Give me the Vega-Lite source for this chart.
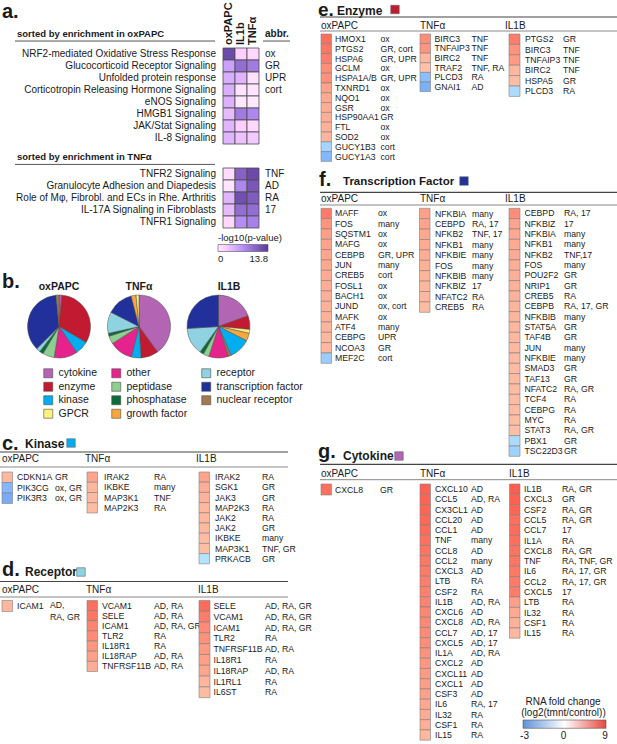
{
"$schema": "https://vega.github.io/schema/vega-lite/v6.json",
"padding": 0,
"background": "white",
"autosize": {"type": "none"},
"width": 617,
"height": 744,
"config": {
  "view": {"stroke": null},
  "axis": {"disable": true},
  "font": "Liberation Sans",
  "text": {"font": "Liberation Sans", "fontSize": 10, "color": "#1a1a1a"},
  "legend": {"labelFont": "Liberation Sans", "titleFont": "Liberation Sans", "labelColor": "#1a1a1a", "titleColor": "#1a1a1a"}
},
"datasets": {
  "hm": [
    {"pathway": "NRF2-mediated Oxidative Stress Response", "cond": "oxPAPC", "p": 12.5},
    {"pathway": "NRF2-mediated Oxidative Stress Response", "cond": "IL1b", "p": 2.0},
    {"pathway": "NRF2-mediated Oxidative Stress Response", "cond": "TNFα", "p": 1.5},
    {"pathway": "Glucocorticoid Receptor Signaling", "cond": "oxPAPC", "p": 5.5},
    {"pathway": "Glucocorticoid Receptor Signaling", "cond": "IL1b", "p": 9.5},
    {"pathway": "Glucocorticoid Receptor Signaling", "cond": "TNFα", "p": 8.5},
    {"pathway": "Unfolded protein response", "cond": "oxPAPC", "p": 4.5},
    {"pathway": "Unfolded protein response", "cond": "IL1b", "p": 4.0},
    {"pathway": "Unfolded protein response", "cond": "TNFα", "p": 0.8},
    {"pathway": "Corticotropin Releasing Hormone Signaling", "cond": "oxPAPC", "p": 4.5},
    {"pathway": "Corticotropin Releasing Hormone Signaling", "cond": "IL1b", "p": 0.6},
    {"pathway": "Corticotropin Releasing Hormone Signaling", "cond": "TNFα", "p": 0.5},
    {"pathway": "eNOS Signaling", "cond": "oxPAPC", "p": 4.2},
    {"pathway": "eNOS Signaling", "cond": "IL1b", "p": 0.3},
    {"pathway": "eNOS Signaling", "cond": "TNFα", "p": 0.2},
    {"pathway": "HMGB1 Signaling", "cond": "oxPAPC", "p": 3.5},
    {"pathway": "HMGB1 Signaling", "cond": "IL1b", "p": 8.5},
    {"pathway": "HMGB1 Signaling", "cond": "TNFα", "p": 7.5},
    {"pathway": "JAK/Stat Signaling", "cond": "oxPAPC", "p": 4.0},
    {"pathway": "JAK/Stat Signaling", "cond": "IL1b", "p": 2.0},
    {"pathway": "JAK/Stat Signaling", "cond": "TNFα", "p": 1.5},
    {"pathway": "IL-8 Signaling", "cond": "oxPAPC", "p": 4.0},
    {"pathway": "IL-8 Signaling", "cond": "IL1b", "p": 3.0},
    {"pathway": "IL-8 Signaling", "cond": "TNFα", "p": 2.5},
    {"pathway": "TNFR2 Signaling", "cond": "oxPAPC", "p": 1.2},
    {"pathway": "TNFR2 Signaling", "cond": "IL1b", "p": 10.5},
    {"pathway": "TNFR2 Signaling", "cond": "TNFα", "p": 12.5},
    {"pathway": "Granulocyte Adhesion and Diapedesis", "cond": "oxPAPC", "p": 0.5},
    {"pathway": "Granulocyte Adhesion and Diapedesis", "cond": "IL1b", "p": 7.5},
    {"pathway": "Granulocyte Adhesion and Diapedesis", "cond": "TNFα", "p": 11.5},
    {"pathway": "Role of Mφ, Fibrobl. and ECs in Rhe. Arthritis", "cond": "oxPAPC", "p": 4.0},
    {"pathway": "Role of Mφ, Fibrobl. and ECs in Rhe. Arthritis", "cond": "IL1b", "p": 12.0},
    {"pathway": "Role of Mφ, Fibrobl. and ECs in Rhe. Arthritis", "cond": "TNFα", "p": 11.0},
    {"pathway": "IL-17A Signaling in Fibroblasts", "cond": "oxPAPC", "p": 3.5},
    {"pathway": "IL-17A Signaling in Fibroblasts", "cond": "IL1b", "p": 9.5},
    {"pathway": "IL-17A Signaling in Fibroblasts", "cond": "TNFα", "p": 9.5},
    {"pathway": "TNFR1 Signaling", "cond": "oxPAPC", "p": 1.5},
    {"pathway": "TNFR1 Signaling", "cond": "IL1b", "p": 7.0},
    {"pathway": "TNFR1 Signaling", "cond": "TNFα", "p": 8.0}
  ],
  "pw": [
    {"pathway": "NRF2-mediated Oxidative Stress Response", "abbr": "ox"},
    {"pathway": "Glucocorticoid Receptor Signaling", "abbr": "GR"},
    {"pathway": "Unfolded protein response", "abbr": "UPR"},
    {"pathway": "Corticotropin Releasing Hormone Signaling", "abbr": "cort"},
    {"pathway": "eNOS Signaling", "abbr": ""},
    {"pathway": "HMGB1 Signaling", "abbr": ""},
    {"pathway": "JAK/Stat Signaling", "abbr": ""},
    {"pathway": "IL-8 Signaling", "abbr": ""},
    {"pathway": "TNFR2 Signaling", "abbr": "TNF"},
    {"pathway": "Granulocyte Adhesion and Diapedesis", "abbr": "AD"},
    {"pathway": "Role of Mφ, Fibrobl. and ECs in Rhe. Arthritis", "abbr": "RA"},
    {"pathway": "IL-17A Signaling in Fibroblasts", "abbr": "17"},
    {"pathway": "TNFR1 Signaling", "abbr": ""}
  ],
  "pie": [
    {"cond": "oxPAPC", "cat": "cytokine", "pct": 1.5, "ord": 1},
    {"cond": "oxPAPC", "cat": "enzyme", "pct": 32, "ord": 2},
    {"cond": "oxPAPC", "cat": "kinase", "pct": 7, "ord": 3},
    {"cond": "oxPAPC", "cat": "other", "pct": 12, "ord": 4},
    {"cond": "oxPAPC", "cat": "peptidase", "pct": 6, "ord": 5},
    {"cond": "oxPAPC", "cat": "phosphatase", "pct": 2, "ord": 6},
    {"cond": "oxPAPC", "cat": "receptor", "pct": 2, "ord": 7},
    {"cond": "oxPAPC", "cat": "transcription factor", "pct": 36, "ord": 8},
    {"cond": "oxPAPC", "cat": "nuclear receptor", "pct": 1.5, "ord": 9},
    {"cond": "TNFα", "cat": "cytokine", "pct": 40, "ord": 1},
    {"cond": "TNFα", "cat": "enzyme", "pct": 9, "ord": 2},
    {"cond": "TNFα", "cat": "kinase", "pct": 5, "ord": 3},
    {"cond": "TNFα", "cat": "other", "pct": 12, "ord": 4},
    {"cond": "TNFα", "cat": "peptidase", "pct": 4, "ord": 5},
    {"cond": "TNFα", "cat": "phosphatase", "pct": 1.5, "ord": 6},
    {"cond": "TNFα", "cat": "receptor", "pct": 11, "ord": 7},
    {"cond": "TNFα", "cat": "transcription factor", "pct": 13.5, "ord": 8},
    {"cond": "TNFα", "cat": "growth factor", "pct": 2.5, "ord": 9},
    {"cond": "TNFα", "cat": "GPCR", "pct": 1.5, "ord": 10},
    {"cond": "IL1B", "cat": "cytokine", "pct": 19.5, "ord": 1},
    {"cond": "IL1B", "cat": "enzyme", "pct": 7, "ord": 2},
    {"cond": "IL1B", "cat": "GPCR", "pct": 2, "ord": 3},
    {"cond": "IL1B", "cat": "growth factor", "pct": 4, "ord": 4},
    {"cond": "IL1B", "cat": "kinase", "pct": 11, "ord": 5},
    {"cond": "IL1B", "cat": "nuclear receptor", "pct": 1.5, "ord": 6},
    {"cond": "IL1B", "cat": "other", "pct": 10, "ord": 7},
    {"cond": "IL1B", "cat": "peptidase", "pct": 3, "ord": 8},
    {"cond": "IL1B", "cat": "phosphatase", "pct": 2, "ord": 9},
    {"cond": "IL1B", "cat": "receptor", "pct": 14, "ord": 10},
    {"cond": "IL1B", "cat": "transcription factor", "pct": 26, "ord": 11}
  ],
  "kin": [
    {"cond": "oxPAPC", "rank": 1, "gene": "CDKN1A", "abbr": "GR", "fc": 1.2},
    {"cond": "oxPAPC", "rank": 2, "gene": "PIK3CG", "abbr": "ox, GR", "fc": -2.0},
    {"cond": "oxPAPC", "rank": 3, "gene": "PIK3R3", "abbr": "ox, GR", "fc": -2.3},
    {"cond": "TNFα", "rank": 1, "gene": "IRAK2", "abbr": "RA", "fc": 2.6},
    {"cond": "TNFα", "rank": 2, "gene": "IKBKE", "abbr": "many", "fc": 1.3},
    {"cond": "TNFα", "rank": 3, "gene": "MAP3K1", "abbr": "TNF", "fc": 1.1},
    {"cond": "TNFα", "rank": 4, "gene": "MAP2K3", "abbr": "RA", "fc": 0.9},
    {"cond": "IL1B", "rank": 1, "gene": "IRAK2", "abbr": "RA", "fc": 2.6},
    {"cond": "IL1B", "rank": 2, "gene": "SGK1", "abbr": "GR", "fc": 1.9},
    {"cond": "IL1B", "rank": 3, "gene": "JAK3", "abbr": "GR", "fc": 1.6},
    {"cond": "IL1B", "rank": 4, "gene": "MAP2K3", "abbr": "RA", "fc": 1.3},
    {"cond": "IL1B", "rank": 5, "gene": "JAK2", "abbr": "RA", "fc": 1.2},
    {"cond": "IL1B", "rank": 6, "gene": "JAK2", "abbr": "GR", "fc": 1.1},
    {"cond": "IL1B", "rank": 7, "gene": "IKBKE", "abbr": "many", "fc": 0.9},
    {"cond": "IL1B", "rank": 8, "gene": "MAP3K1", "abbr": "TNF, GR", "fc": 0.8},
    {"cond": "IL1B", "rank": 9, "gene": "PRKACB", "abbr": "GR", "fc": -0.8}
  ],
  "rec": [
    {"cond": "oxPAPC", "rank": 1, "gene": "ICAM1", "abbr": "AD,\nRA, GR", "fc": 1.3},
    {"cond": "TNFα", "rank": 1, "gene": "VCAM1", "abbr": "AD, RA", "fc": 6.3},
    {"cond": "TNFα", "rank": 2, "gene": "SELE", "abbr": "AD, RA", "fc": 5.8},
    {"cond": "TNFα", "rank": 3, "gene": "ICAM1", "abbr": "AD, RA, GR", "fc": 4.8},
    {"cond": "TNFα", "rank": 4, "gene": "TLR2", "abbr": "RA", "fc": 4.3},
    {"cond": "TNFα", "rank": 5, "gene": "IL18R1", "abbr": "RA", "fc": 3.5},
    {"cond": "TNFα", "rank": 6, "gene": "IL18RAP", "abbr": "AD, RA", "fc": 2.8},
    {"cond": "TNFα", "rank": 7, "gene": "TNFRSF11B", "abbr": "AD, RA", "fc": 2.0},
    {"cond": "IL1B", "rank": 1, "gene": "SELE", "abbr": "AD, RA, GR", "fc": 6.5},
    {"cond": "IL1B", "rank": 2, "gene": "VCAM1", "abbr": "AD, RA, GR", "fc": 5.3},
    {"cond": "IL1B", "rank": 3, "gene": "ICAM1", "abbr": "AD, RA, GR", "fc": 4.3},
    {"cond": "IL1B", "rank": 4, "gene": "TLR2", "abbr": "RA", "fc": 3.8},
    {"cond": "IL1B", "rank": 5, "gene": "TNFRSF11B", "abbr": "AD, RA", "fc": 3.3},
    {"cond": "IL1B", "rank": 6, "gene": "IL18R1", "abbr": "RA", "fc": 2.9},
    {"cond": "IL1B", "rank": 7, "gene": "IL18RAP", "abbr": "AD, RA", "fc": 2.5},
    {"cond": "IL1B", "rank": 8, "gene": "IL1RL1", "abbr": "RA", "fc": 1.4},
    {"cond": "IL1B", "rank": 9, "gene": "IL6ST", "abbr": "RA", "fc": 1.0}
  ],
  "enz": [
    {"cond": "oxPAPC", "rank": 1, "gene": "HMOX1", "abbr": "ox", "fc": 6.3},
    {"cond": "oxPAPC", "rank": 2, "gene": "PTGS2", "abbr": "GR, cort", "fc": 5.8},
    {"cond": "oxPAPC", "rank": 3, "gene": "HSPA6", "abbr": "GR, UPR", "fc": 5.2},
    {"cond": "oxPAPC", "rank": 4, "gene": "GCLM", "abbr": "ox", "fc": 4.2},
    {"cond": "oxPAPC", "rank": 5, "gene": "HSPA1A/B", "abbr": "GR, UPR", "fc": 4.0},
    {"cond": "oxPAPC", "rank": 6, "gene": "TXNRD1", "abbr": "ox", "fc": 2.7},
    {"cond": "oxPAPC", "rank": 7, "gene": "NQO1", "abbr": "ox", "fc": 2.2},
    {"cond": "oxPAPC", "rank": 8, "gene": "GSR", "abbr": "ox", "fc": 2.0},
    {"cond": "oxPAPC", "rank": 9, "gene": "HSP90AA1", "abbr": "GR", "fc": 1.9},
    {"cond": "oxPAPC", "rank": 10, "gene": "FTL", "abbr": "ox", "fc": 1.6},
    {"cond": "oxPAPC", "rank": 11, "gene": "SOD2", "abbr": "ox", "fc": 1.4},
    {"cond": "oxPAPC", "rank": 12, "gene": "GUCY1B3", "abbr": "cort", "fc": -1.2},
    {"cond": "oxPAPC", "rank": 13, "gene": "GUCY1A3", "abbr": "cort", "fc": -2.0},
    {"cond": "TNFα", "rank": 1, "gene": "BIRC3", "abbr": "TNF", "fc": 4.2},
    {"cond": "TNFα", "rank": 2, "gene": "TNFAIP3", "abbr": "TNF", "fc": 3.6},
    {"cond": "TNFα", "rank": 3, "gene": "BIRC2", "abbr": "TNF", "fc": 1.3},
    {"cond": "TNFα", "rank": 4, "gene": "TRAF2", "abbr": "TNF, RA", "fc": 0.6},
    {"cond": "TNFα", "rank": 5, "gene": "PLCD3", "abbr": "RA", "fc": -1.8},
    {"cond": "TNFα", "rank": 6, "gene": "GNAI1", "abbr": "AD", "fc": -2.2},
    {"cond": "IL1B", "rank": 1, "gene": "PTGS2", "abbr": "GR", "fc": 5.2},
    {"cond": "IL1B", "rank": 2, "gene": "BIRC3", "abbr": "TNF", "fc": 3.8},
    {"cond": "IL1B", "rank": 3, "gene": "TNFAIP3", "abbr": "TNF", "fc": 3.2},
    {"cond": "IL1B", "rank": 4, "gene": "BIRC2", "abbr": "TNF", "fc": 1.3},
    {"cond": "IL1B", "rank": 5, "gene": "HSPA5", "abbr": "GR", "fc": 0.8},
    {"cond": "IL1B", "rank": 6, "gene": "PLCD3", "abbr": "RA", "fc": -1.0}
  ],
  "tf": [
    {"cond": "oxPAPC", "rank": 1, "gene": "MAFF", "abbr": "ox", "fc": 5.5},
    {"cond": "oxPAPC", "rank": 2, "gene": "FOS", "abbr": "many", "fc": 3.6},
    {"cond": "oxPAPC", "rank": 3, "gene": "SQSTM1", "abbr": "ox", "fc": 2.9},
    {"cond": "oxPAPC", "rank": 4, "gene": "MAFG", "abbr": "ox", "fc": 2.6},
    {"cond": "oxPAPC", "rank": 5, "gene": "CEBPB", "abbr": "GR, UPR", "fc": 2.5},
    {"cond": "oxPAPC", "rank": 6, "gene": "JUN", "abbr": "many", "fc": 2.3},
    {"cond": "oxPAPC", "rank": 7, "gene": "CREB5", "abbr": "cort", "fc": 2.1},
    {"cond": "oxPAPC", "rank": 8, "gene": "FOSL1", "abbr": "ox", "fc": 1.9},
    {"cond": "oxPAPC", "rank": 9, "gene": "BACH1", "abbr": "ox", "fc": 1.8},
    {"cond": "oxPAPC", "rank": 10, "gene": "JUND", "abbr": "ox, cort", "fc": 1.7},
    {"cond": "oxPAPC", "rank": 11, "gene": "MAFK", "abbr": "ox", "fc": 1.6},
    {"cond": "oxPAPC", "rank": 12, "gene": "ATF4", "abbr": "many", "fc": 1.5},
    {"cond": "oxPAPC", "rank": 13, "gene": "CEBPG", "abbr": "UPR", "fc": 1.3},
    {"cond": "oxPAPC", "rank": 14, "gene": "NCOA3", "abbr": "GR", "fc": 1.2},
    {"cond": "oxPAPC", "rank": 15, "gene": "MEF2C", "abbr": "cort", "fc": -1.4},
    {"cond": "TNFα", "rank": 1, "gene": "NFKBIA", "abbr": "many", "fc": 2.8},
    {"cond": "TNFα", "rank": 2, "gene": "CEBPD", "abbr": "RA, 17", "fc": 2.6},
    {"cond": "TNFα", "rank": 3, "gene": "NFKB2", "abbr": "TNF, 17", "fc": 2.3},
    {"cond": "TNFα", "rank": 4, "gene": "NFKB1", "abbr": "many", "fc": 2.1},
    {"cond": "TNFα", "rank": 5, "gene": "NFKBIE", "abbr": "many", "fc": 1.9},
    {"cond": "TNFα", "rank": 6, "gene": "FOS", "abbr": "many", "fc": 1.7},
    {"cond": "TNFα", "rank": 7, "gene": "NFKBIB", "abbr": "many", "fc": 1.5},
    {"cond": "TNFα", "rank": 8, "gene": "NFKBIZ", "abbr": "17", "fc": 1.3},
    {"cond": "TNFα", "rank": 9, "gene": "NFATC2", "abbr": "RA", "fc": 1.2},
    {"cond": "TNFα", "rank": 10, "gene": "CREB5", "abbr": "RA", "fc": 1.0},
    {"cond": "IL1B", "rank": 1, "gene": "CEBPD", "abbr": "RA, 17", "fc": 4.2},
    {"cond": "IL1B", "rank": 2, "gene": "NFKBIZ", "abbr": "17", "fc": 2.6},
    {"cond": "IL1B", "rank": 3, "gene": "NFKBIA", "abbr": "many", "fc": 2.4},
    {"cond": "IL1B", "rank": 4, "gene": "NFKB1", "abbr": "many", "fc": 2.2},
    {"cond": "IL1B", "rank": 5, "gene": "NFKB2", "abbr": "TNF,17", "fc": 2.1},
    {"cond": "IL1B", "rank": 6, "gene": "FOS", "abbr": "many", "fc": 1.9},
    {"cond": "IL1B", "rank": 7, "gene": "POU2F2", "abbr": "GR", "fc": 1.8},
    {"cond": "IL1B", "rank": 8, "gene": "NRIP1", "abbr": "GR", "fc": 1.7},
    {"cond": "IL1B", "rank": 9, "gene": "CREB5", "abbr": "RA", "fc": 1.6},
    {"cond": "IL1B", "rank": 10, "gene": "CEBPB", "abbr": "RA, 17, GR", "fc": 1.5},
    {"cond": "IL1B", "rank": 11, "gene": "NFKBIB", "abbr": "many", "fc": 1.4},
    {"cond": "IL1B", "rank": 12, "gene": "STAT5A", "abbr": "GR", "fc": 1.3},
    {"cond": "IL1B", "rank": 13, "gene": "TAF4B", "abbr": "GR", "fc": 1.2},
    {"cond": "IL1B", "rank": 14, "gene": "JUN", "abbr": "many", "fc": 1.1},
    {"cond": "IL1B", "rank": 15, "gene": "NFKBIE", "abbr": "many", "fc": 1.1},
    {"cond": "IL1B", "rank": 16, "gene": "SMAD3", "abbr": "GR", "fc": 1.0},
    {"cond": "IL1B", "rank": 17, "gene": "TAF13", "abbr": "GR", "fc": 1.0},
    {"cond": "IL1B", "rank": 18, "gene": "NFATC2", "abbr": "RA, GR", "fc": 0.9},
    {"cond": "IL1B", "rank": 19, "gene": "TCF4", "abbr": "RA", "fc": 0.9},
    {"cond": "IL1B", "rank": 20, "gene": "CEBPG", "abbr": "RA", "fc": 0.8},
    {"cond": "IL1B", "rank": 21, "gene": "MYC", "abbr": "RA", "fc": 0.8},
    {"cond": "IL1B", "rank": 22, "gene": "STAT3", "abbr": "RA, GR", "fc": 0.7},
    {"cond": "IL1B", "rank": 23, "gene": "PBX1", "abbr": "GR", "fc": -1.0},
    {"cond": "IL1B", "rank": 24, "gene": "TSC22D3", "abbr": "GR", "fc": -1.3}
  ],
  "cyt": [
    {"cond": "oxPAPC", "rank": 1, "gene": "CXCL8", "abbr": "GR", "fc": 6.2},
    {"cond": "TNFα", "rank": 1, "gene": "CXCL10", "abbr": "AD", "fc": 7.2},
    {"cond": "TNFα", "rank": 2, "gene": "CCL5", "abbr": "AD, RA", "fc": 7.1},
    {"cond": "TNFα", "rank": 3, "gene": "CX3CL1", "abbr": "AD", "fc": 7.0},
    {"cond": "TNFα", "rank": 4, "gene": "CCL20", "abbr": "AD", "fc": 6.8},
    {"cond": "TNFα", "rank": 5, "gene": "CCL1", "abbr": "AD", "fc": 6.5},
    {"cond": "TNFα", "rank": 6, "gene": "TNF", "abbr": "many", "fc": 6.3},
    {"cond": "TNFα", "rank": 7, "gene": "CCL8", "abbr": "AD", "fc": 6.0},
    {"cond": "TNFα", "rank": 8, "gene": "CCL2", "abbr": "many", "fc": 5.7},
    {"cond": "TNFα", "rank": 9, "gene": "CXCL3", "abbr": "AD", "fc": 5.5},
    {"cond": "TNFα", "rank": 10, "gene": "LTB", "abbr": "RA", "fc": 5.3},
    {"cond": "TNFα", "rank": 11, "gene": "CSF2", "abbr": "RA", "fc": 5.1},
    {"cond": "TNFα", "rank": 12, "gene": "IL1B", "abbr": "AD, RA", "fc": 4.9},
    {"cond": "TNFα", "rank": 13, "gene": "CXCL6", "abbr": "AD", "fc": 4.7},
    {"cond": "TNFα", "rank": 14, "gene": "CXCL8", "abbr": "AD, RA", "fc": 4.5},
    {"cond": "TNFα", "rank": 15, "gene": "CCL7", "abbr": "AD, 17", "fc": 4.3},
    {"cond": "TNFα", "rank": 16, "gene": "CXCL5", "abbr": "AD, 17", "fc": 4.1},
    {"cond": "TNFα", "rank": 17, "gene": "IL1A", "abbr": "AD, RA", "fc": 3.8},
    {"cond": "TNFα", "rank": 18, "gene": "CXCL2", "abbr": "AD", "fc": 3.5},
    {"cond": "TNFα", "rank": 19, "gene": "CXCL11", "abbr": "AD", "fc": 3.3},
    {"cond": "TNFα", "rank": 20, "gene": "CXCL1", "abbr": "AD", "fc": 3.0},
    {"cond": "TNFα", "rank": 21, "gene": "CSF3", "abbr": "AD", "fc": 2.8},
    {"cond": "TNFα", "rank": 22, "gene": "IL6", "abbr": "RA, 17", "fc": 2.4},
    {"cond": "TNFα", "rank": 23, "gene": "IL32", "abbr": "RA", "fc": 2.1},
    {"cond": "TNFα", "rank": 24, "gene": "CSF1", "abbr": "RA", "fc": 1.8},
    {"cond": "TNFα", "rank": 25, "gene": "IL15", "abbr": "RA", "fc": 1.3},
    {"cond": "IL1B", "rank": 1, "gene": "IL1B", "abbr": "RA, GR", "fc": 7.5},
    {"cond": "IL1B", "rank": 2, "gene": "CXCL3", "abbr": "GR", "fc": 7.3},
    {"cond": "IL1B", "rank": 3, "gene": "CSF2", "abbr": "RA, GR", "fc": 7.0},
    {"cond": "IL1B", "rank": 4, "gene": "CCL5", "abbr": "RA, GR", "fc": 6.3},
    {"cond": "IL1B", "rank": 5, "gene": "CCL7", "abbr": "17", "fc": 6.5},
    {"cond": "IL1B", "rank": 6, "gene": "IL1A", "abbr": "RA", "fc": 6.3},
    {"cond": "IL1B", "rank": 7, "gene": "CXCL8", "abbr": "RA, GR", "fc": 6.0},
    {"cond": "IL1B", "rank": 8, "gene": "TNF", "abbr": "RA, TNF, GR", "fc": 5.8},
    {"cond": "IL1B", "rank": 9, "gene": "IL6", "abbr": "RA, 17, GR", "fc": 5.7},
    {"cond": "IL1B", "rank": 10, "gene": "CCL2", "abbr": "RA, 17, GR", "fc": 5.5},
    {"cond": "IL1B", "rank": 11, "gene": "CXCL5", "abbr": "17", "fc": 5.3},
    {"cond": "IL1B", "rank": 12, "gene": "LTB", "abbr": "RA", "fc": 2.8},
    {"cond": "IL1B", "rank": 13, "gene": "IL32", "abbr": "RA", "fc": 2.2},
    {"cond": "IL1B", "rank": 14, "gene": "CSF1", "abbr": "RA", "fc": 1.7},
    {"cond": "IL1B", "rank": 15, "gene": "IL15", "abbr": "RA", "fc": 1.3}
  ]
},
"resolve": {"scale": {"color": "independent", "x": "independent", "y": "independent"}, "legend": {"color": "independent"}},
"layer": [
{
  "resolve": {"scale": {"x": "independent"}},
  "layer": [
    {"layer": [
      {"data": {"name": "hm"},
       "mark": {"type": "rect", "stroke": "#4d4d4d", "strokeWidth": 0.8},
       "encoding": {
         "x": {"field": "cond", "type": "nominal", "scale": {"type": "band", "domain": ["oxPAPC", "IL1b", "TNFα"], "range": [223, 259], "paddingInner": 0, "paddingOuter": 0}},
         "y": {"field": "pathway", "type": "nominal", "scale": {"type": "band", "domain": ["t1","t2","t3","t4","NRF2-mediated Oxidative Stress Response","Glucocorticoid Receptor Signaling","Unfolded protein response","Corticotropin Releasing Hormone Signaling","eNOS Signaling","HMGB1 Signaling","JAK/Stat Signaling","IL-8 Signaling","g1","g2","TNFR2 Signaling","Granulocyte Adhesion and Diapedesis","Role of Mφ, Fibrobl. and ECs in Rhe. Arthritis","IL-17A Signaling in Fibroblasts","TNFR1 Signaling","l1","l2","l3"], "range": [0, 264], "paddingInner": 0, "paddingOuter": 0}},
         "color": {"field": "p", "type": "quantitative", "scale": {"domain": [0, 13.8], "range": ["#ffffff", "#5b3b98"]},
           "legend": {"orient": "none", "legendX": 218, "legendY": 233, "direction": "horizontal", "title": "-log10(p-value)", "titleFontSize": 9.5, "titleFontWeight": "normal", "titlePadding": 2, "gradientLength": 50, "gradientThickness": 7, "values": [0, 13.8], "format": ".1~f", "labelFontSize": 9.5, "labelAlign": "center", "labelOffset": 2, "gradientStrokeColor": "#555", "gradientStrokeWidth": 0.6}}
       }},
      {"data": {"values": [{"cond": "oxPAPC"}, {"cond": "IL1b"}, {"cond": "TNFα"}]},
       "mark": {"type": "text", "angle": 270, "align": "left", "baseline": "middle", "fontWeight": "bold", "fontSize": 11},
       "encoding": {"x": {"field": "cond", "type": "nominal"}, "y": {"datum": "t4", "type": "nominal", "bandPosition": 0.75}, "text": {"field": "cond"}}}
    ]},
    {"layer": [
      {"data": {"name": "pw"},
       "mark": {"type": "text", "align": "right", "baseline": "middle", "fontSize": 10},
       "encoding": {"x": {"datum": 216, "type": "quantitative", "scale": {"domain": [0, 300], "range": [0, 300], "nice": false, "zero": false}}, "y": {"field": "pathway", "type": "nominal"}, "text": {"field": "pathway"}}},
      {"data": {"name": "pw"},
       "mark": {"type": "text", "align": "left", "baseline": "middle", "fontSize": 10},
       "encoding": {"x": {"datum": 265, "type": "quantitative", "scale": {"domain": [0, 300], "range": [0, 300], "nice": false, "zero": false}}, "y": {"field": "pathway", "type": "nominal"}, "text": {"field": "abbr"}}},
      {"data": {"values": [{}]},
       "mark": {"type": "text", "text": "a.", "align": "left", "baseline": "alphabetic", "fontSize": 20, "fontWeight": "bold"},
       "encoding": {"x": {"datum": 2, "type": "quantitative", "scale": {"domain": [0, 300], "range": [0, 300], "nice": false, "zero": false}}, "y": {"datum": "t2", "type": "nominal", "bandPosition": 0.5}}},
      {"data": {"values": [{}]},
       "mark": {"type": "text", "text": "sorted by enrichment in oxPAPC", "align": "left", "baseline": "middle", "fontSize": 9.5, "fontWeight": "bold"},
       "encoding": {"x": {"datum": 17, "type": "quantitative", "scale": {"domain": [0, 300], "range": [0, 300], "nice": false, "zero": false}}, "y": {"datum": "t3", "type": "nominal", "bandPosition": 0.83}}},
      {"data": {"values": [{}]},
       "mark": {"type": "text", "text": "abbr.", "align": "left", "baseline": "middle", "fontSize": 10, "fontWeight": "bold"},
       "encoding": {"x": {"datum": 265, "type": "quantitative", "scale": {"domain": [0, 300], "range": [0, 300], "nice": false, "zero": false}}, "y": {"datum": "t3", "type": "nominal", "bandPosition": 0.83}}},
      {"data": {"values": [{}]},
       "mark": {"type": "text", "text": "sorted by enrichment in TNFα", "align": "left", "baseline": "middle", "fontSize": 9.5, "fontWeight": "bold"},
       "encoding": {"x": {"datum": 17, "type": "quantitative", "scale": {"domain": [0, 300], "range": [0, 300], "nice": false, "zero": false}}, "y": {"datum": "g2", "type": "nominal", "bandPosition": 0.1}}},
      {"data": {"values": [{}]},
       "mark": {"type": "rule", "color": "#555", "strokeWidth": 1},
       "encoding": {"x": {"datum": 15, "type": "quantitative", "scale": {"domain": [0, 300], "range": [0, 300], "nice": false, "zero": false}}, "x2": {"datum": 215}, "y": {"datum": "t4", "type": "nominal", "bandPosition": 0.42}}},
      {"data": {"values": [{}]},
       "mark": {"type": "rule", "color": "#555", "strokeWidth": 1},
       "encoding": {"x": {"datum": 263, "type": "quantitative", "scale": {"domain": [0, 300], "range": [0, 300], "nice": false, "zero": false}}, "x2": {"datum": 290}, "y": {"datum": "t4", "type": "nominal", "bandPosition": 0.42}}},
      {"data": {"values": [{}]},
       "mark": {"type": "rule", "color": "#555", "strokeWidth": 1},
       "encoding": {"x": {"datum": 15, "type": "quantitative", "scale": {"domain": [0, 300], "range": [0, 300], "nice": false, "zero": false}}, "x2": {"datum": 215}, "y": {"datum": "g2", "type": "nominal", "bandPosition": 0.7}}}
    ]}
  ]
},
{
  "layer": [
    {"data": {"name": "pie"}, "transform": [{"filter": "datum.cond === 'oxPAPC'"}],
     "mark": {"type": "arc", "outerRadius": 31.5, "stroke": "#4d4d4d", "strokeWidth": 0.5},
     "encoding": {
       "theta": {"field": "pct", "type": "quantitative", "stack": true, "scale": {"domain": [0, 100]}},
       "order": {"field": "ord", "type": "quantitative"},
       "color": {"field": "cat", "type": "nominal",
         "scale": {"domain": ["cytokine", "enzyme", "kinase", "GPCR", "other", "peptidase", "phosphatase", "growth factor", "receptor", "transcription factor", "nuclear receptor"],
                   "range": ["#b364b3", "#c21a30", "#00aeef", "#fbf27a", "#e6238c", "#8dcf8e", "#0b6b3a", "#f9a73c", "#8fd3e3", "#21309a", "#a37a4e"]},
         "legend": {"orient": "none", "legendX": 43, "legendY": 368, "direction": "vertical", "columns": 3, "title": null, "symbolType": "square", "symbolSize": 81, "symbolStrokeColor": "#666", "symbolStrokeWidth": 0.6, "symbolOpacity": 1, "labelFontSize": 10.5, "rowPadding": 1.5, "columnPadding": 12, "labelOffset": 5}},
       "x": {"datum": 59, "type": "quantitative", "scale": {"domain": [0, 300], "range": [0, 300], "nice": false, "zero": false}},
       "y": {"datum": 62.5, "type": "quantitative", "scale": {"domain": [0, 161], "range": [264, 425], "nice": false, "zero": false}}
     }},
    {"data": {"name": "pie"}, "transform": [{"filter": "datum.cond === 'TNFα'"}],
     "mark": {"type": "arc", "outerRadius": 31.5, "stroke": "#4d4d4d", "strokeWidth": 0.5},
     "encoding": {
       "theta": {"field": "pct", "type": "quantitative", "stack": true},
       "order": {"field": "ord", "type": "quantitative"},
       "color": {"field": "cat", "type": "nominal"},
       "x": {"datum": 139, "type": "quantitative", "scale": {"domain": [0, 300], "range": [0, 300], "nice": false, "zero": false}},
       "y": {"datum": 62.5, "type": "quantitative", "scale": {"domain": [0, 161], "range": [264, 425], "nice": false, "zero": false}}
     }},
    {"data": {"name": "pie"}, "transform": [{"filter": "datum.cond === 'IL1B'"}],
     "mark": {"type": "arc", "outerRadius": 31.5, "stroke": "#4d4d4d", "strokeWidth": 0.5},
     "encoding": {
       "theta": {"field": "pct", "type": "quantitative", "stack": true},
       "order": {"field": "ord", "type": "quantitative"},
       "color": {"field": "cat", "type": "nominal"},
       "x": {"datum": 218.5, "type": "quantitative", "scale": {"domain": [0, 300], "range": [0, 300], "nice": false, "zero": false}},
       "y": {"datum": 62.5, "type": "quantitative", "scale": {"domain": [0, 161], "range": [264, 425], "nice": false, "zero": false}}
     }},
    {"data": {"values": [{}]},
     "mark": {"type": "text", "text": "b.", "align": "left", "baseline": "alphabetic", "fontSize": 20, "fontWeight": "bold"},
     "encoding": {"x": {"datum": 2, "type": "quantitative", "scale": {"domain": [0, 300], "range": [0, 300], "nice": false, "zero": false}}, "y": {"datum": 23.5, "type": "quantitative", "scale": {"domain": [0, 161], "range": [264, 425], "nice": false, "zero": false}}}},
    {"data": {"values": [{}]},
     "mark": {"type": "text", "text": "oxPAPC", "align": "center", "baseline": "middle", "fontSize": 10.5, "fontWeight": "bold"},
     "encoding": {"x": {"datum": 59, "type": "quantitative", "scale": {"domain": [0, 300], "range": [0, 300], "nice": false, "zero": false}}, "y": {"datum": 22.5, "type": "quantitative", "scale": {"domain": [0, 161], "range": [264, 425], "nice": false, "zero": false}}}},
    {"data": {"values": [{}]},
     "mark": {"type": "text", "text": "TNFα", "align": "center", "baseline": "middle", "fontSize": 10.5, "fontWeight": "bold"},
     "encoding": {"x": {"datum": 139, "type": "quantitative", "scale": {"domain": [0, 300], "range": [0, 300], "nice": false, "zero": false}}, "y": {"datum": 22.5, "type": "quantitative", "scale": {"domain": [0, 161], "range": [264, 425], "nice": false, "zero": false}}}},
    {"data": {"values": [{}]},
     "mark": {"type": "text", "text": "IL1B", "align": "center", "baseline": "middle", "fontSize": 10.5, "fontWeight": "bold"},
     "encoding": {"x": {"datum": 229, "type": "quantitative", "scale": {"domain": [0, 300], "range": [0, 300], "nice": false, "zero": false}}, "y": {"datum": 22.5, "type": "quantitative", "scale": {"domain": [0, 161], "range": [264, 425], "nice": false, "zero": false}}}}
  ]
},
{
  "data": {"values": [{}]},
  "layer": [
    {"mark": {"type": "text", "text": "c.", "align": "left", "baseline": "alphabetic", "fontSize": 20, "fontWeight": "bold"},
     "encoding": {"x": {"datum": 2, "type": "quantitative", "scale": {"domain": [0, 300], "range": [0, 300], "nice": false, "zero": false}}, "y": {"datum": 25, "type": "quantitative", "scale": {"domain": [0, 47], "range": [425, 472], "nice": false, "zero": false}}}},
    {"mark": {"type": "text", "text": "Kinase", "align": "left", "baseline": "alphabetic", "fontSize": 12, "fontWeight": "bold"},
     "encoding": {"x": {"datum": 25, "type": "quantitative", "scale": {"domain": [0, 300], "range": [0, 300], "nice": false, "zero": false}}, "y": {"datum": 23, "type": "quantitative", "scale": {"domain": [0, 47], "range": [425, 472], "nice": false, "zero": false}}}},
    {"mark": {"type": "square", "size": 72, "filled": true, "fill": "#00aeef", "stroke": "#666", "strokeWidth": 0.6, "opacity": 1},
     "encoding": {"x": {"datum": 71, "type": "quantitative", "scale": {"domain": [0, 300], "range": [0, 300], "nice": false, "zero": false}}, "y": {"datum": 18, "type": "quantitative", "scale": {"domain": [0, 47], "range": [425, 472], "nice": false, "zero": false}}}},
    {"mark": {"type": "rule", "color": "#444", "strokeWidth": 1.2},
     "encoding": {"x": {"datum": 0, "type": "quantitative", "scale": {"domain": [0, 300], "range": [0, 300], "nice": false, "zero": false}}, "x2": {"datum": 288}, "y": {"datum": 27, "type": "quantitative", "scale": {"domain": [0, 47], "range": [425, 472], "nice": false, "zero": false}}}},
    {"mark": {"type": "text", "text": "oxPAPC", "align": "left", "baseline": "alphabetic", "fontSize": 10},
     "encoding": {"x": {"datum": 2, "type": "quantitative", "scale": {"domain": [0, 300], "range": [0, 300], "nice": false, "zero": false}}, "y": {"datum": 37, "type": "quantitative", "scale": {"domain": [0, 47], "range": [425, 472], "nice": false, "zero": false}}}},
    {"mark": {"type": "text", "text": "TNFα", "align": "left", "baseline": "alphabetic", "fontSize": 10},
     "encoding": {"x": {"datum": 85, "type": "quantitative", "scale": {"domain": [0, 300], "range": [0, 300], "nice": false, "zero": false}}, "y": {"datum": 37, "type": "quantitative", "scale": {"domain": [0, 47], "range": [425, 472], "nice": false, "zero": false}}}},
    {"mark": {"type": "text", "text": "IL1B", "align": "left", "baseline": "alphabetic", "fontSize": 10},
     "encoding": {"x": {"datum": 196, "type": "quantitative", "scale": {"domain": [0, 300], "range": [0, 300], "nice": false, "zero": false}}, "y": {"datum": 37, "type": "quantitative", "scale": {"domain": [0, 47], "range": [425, 472], "nice": false, "zero": false}}}},
    {"mark": {"type": "rule", "color": "#888", "strokeWidth": 1},
     "encoding": {"x": {"datum": 0, "type": "quantitative", "scale": {"domain": [0, 300], "range": [0, 300], "nice": false, "zero": false}}, "x2": {"datum": 288}, "y": {"datum": 42, "type": "quantitative", "scale": {"domain": [0, 47], "range": [425, 472], "nice": false, "zero": false}}}}
  ]
},
{
  "data": {"name": "kin"},
  "resolve": {"scale": {"y": "independent"}},
  "layer": [
    {"transform": [{"filter": "datum.cond === 'oxPAPC'"}],
     "encoding": {"y": {"field": "rank", "type": "ordinal", "scale": {"type": "band", "range": [472, 503.5], "paddingInner": 0, "paddingOuter": 0}}},
     "layer": [
       {"mark": {"type": "rect", "stroke": "#808080", "strokeWidth": 0.6},
        "encoding": {"x": {"datum": 2, "type": "quantitative", "scale": {"domain": [0, 300], "range": [0, 300], "nice": false, "zero": false}}, "x2": {"datum": 12.5},
          "color": {"field": "fc", "type": "quantitative", "scale": {"type": "linear", "domain": [-3, 0, 9], "range": ["#5e93d8", "#ffffff", "#e8473d"]}, "legend": null}}},
       {"mark": {"type": "text", "align": "left", "baseline": "middle", "fontSize": 8.7},
        "encoding": {"x": {"datum": 17, "type": "quantitative", "scale": {"domain": [0, 300], "range": [0, 300], "nice": false, "zero": false}}, "text": {"field": "gene"}}},
       {"mark": {"type": "text", "align": "left", "baseline": "middle", "fontSize": 8.7},
        "encoding": {"x": {"datum": 55, "type": "quantitative", "scale": {"domain": [0, 300], "range": [0, 300], "nice": false, "zero": false}}, "text": {"field": "abbr"}}}
     ]},
    {"transform": [{"filter": "datum.cond === 'TNFα'"}],
     "encoding": {"y": {"field": "rank", "type": "ordinal", "scale": {"type": "band", "range": [472, 513], "paddingInner": 0, "paddingOuter": 0}}},
     "layer": [
       {"mark": {"type": "rect", "stroke": "#808080", "strokeWidth": 0.6},
        "encoding": {"x": {"datum": 87, "type": "quantitative", "scale": {"domain": [0, 300], "range": [0, 300], "nice": false, "zero": false}}, "x2": {"datum": 97.5},
          "color": {"field": "fc", "type": "quantitative", "scale": {"type": "linear", "domain": [-3, 0, 9], "range": ["#5e93d8", "#ffffff", "#e8473d"]}, "legend": null}}},
       {"mark": {"type": "text", "align": "left", "baseline": "middle", "fontSize": 8.7},
        "encoding": {"x": {"datum": 104, "type": "quantitative", "scale": {"domain": [0, 300], "range": [0, 300], "nice": false, "zero": false}}, "text": {"field": "gene"}}},
       {"mark": {"type": "text", "align": "left", "baseline": "middle", "fontSize": 8.7},
        "encoding": {"x": {"datum": 154, "type": "quantitative", "scale": {"domain": [0, 300], "range": [0, 300], "nice": false, "zero": false}}, "text": {"field": "abbr"}}}
     ]},
    {"transform": [{"filter": "datum.cond === 'IL1B'"}],
     "encoding": {"y": {"field": "rank", "type": "ordinal", "scale": {"type": "band", "range": [472, 563.8], "paddingInner": 0, "paddingOuter": 0}}},
     "layer": [
       {"mark": {"type": "rect", "stroke": "#808080", "strokeWidth": 0.6},
        "encoding": {"x": {"datum": 199, "type": "quantitative", "scale": {"domain": [0, 300], "range": [0, 300], "nice": false, "zero": false}}, "x2": {"datum": 209.5},
          "color": {"field": "fc", "type": "quantitative", "scale": {"type": "linear", "domain": [-3, 0, 9], "range": ["#5e93d8", "#ffffff", "#e8473d"]}, "legend": null}}},
       {"mark": {"type": "text", "align": "left", "baseline": "middle", "fontSize": 8.7},
        "encoding": {"x": {"datum": 215, "type": "quantitative", "scale": {"domain": [0, 300], "range": [0, 300], "nice": false, "zero": false}}, "text": {"field": "gene"}}},
       {"mark": {"type": "text", "align": "left", "baseline": "middle", "fontSize": 8.7},
        "encoding": {"x": {"datum": 262, "type": "quantitative", "scale": {"domain": [0, 300], "range": [0, 300], "nice": false, "zero": false}}, "text": {"field": "abbr"}}}
     ]}
  ]
},
{
  "data": {"values": [{}]},
  "layer": [
    {"mark": {"type": "text", "text": "d.", "align": "left", "baseline": "alphabetic", "fontSize": 20, "fontWeight": "bold"},
     "encoding": {"x": {"datum": 2, "type": "quantitative", "scale": {"domain": [0, 300], "range": [0, 300], "nice": false, "zero": false}}, "y": {"datum": 12, "type": "quantitative", "scale": {"domain": [0, 36], "range": [564, 600], "nice": false, "zero": false}}}},
    {"mark": {"type": "text", "text": "Receptor", "align": "left", "baseline": "alphabetic", "fontSize": 12, "fontWeight": "bold"},
     "encoding": {"x": {"datum": 25, "type": "quantitative", "scale": {"domain": [0, 300], "range": [0, 300], "nice": false, "zero": false}}, "y": {"datum": 12, "type": "quantitative", "scale": {"domain": [0, 36], "range": [564, 600], "nice": false, "zero": false}}}},
    {"mark": {"type": "square", "size": 72, "filled": true, "fill": "#8fd3e3", "stroke": "#666", "strokeWidth": 0.6, "opacity": 1},
     "encoding": {"x": {"datum": 81, "type": "quantitative", "scale": {"domain": [0, 300], "range": [0, 300], "nice": false, "zero": false}}, "y": {"datum": 8, "type": "quantitative", "scale": {"domain": [0, 36], "range": [564, 600], "nice": false, "zero": false}}}},
    {"mark": {"type": "rule", "color": "#444", "strokeWidth": 1.2},
     "encoding": {"x": {"datum": 0, "type": "quantitative", "scale": {"domain": [0, 300], "range": [0, 300], "nice": false, "zero": false}}, "x2": {"datum": 288}, "y": {"datum": 17.5, "type": "quantitative", "scale": {"domain": [0, 36], "range": [564, 600], "nice": false, "zero": false}}}},
    {"mark": {"type": "text", "text": "oxPAPC", "align": "left", "baseline": "alphabetic", "fontSize": 10},
     "encoding": {"x": {"datum": 2, "type": "quantitative", "scale": {"domain": [0, 300], "range": [0, 300], "nice": false, "zero": false}}, "y": {"datum": 28.5, "type": "quantitative", "scale": {"domain": [0, 36], "range": [564, 600], "nice": false, "zero": false}}}},
    {"mark": {"type": "text", "text": "TNFα", "align": "left", "baseline": "alphabetic", "fontSize": 10},
     "encoding": {"x": {"datum": 86, "type": "quantitative", "scale": {"domain": [0, 300], "range": [0, 300], "nice": false, "zero": false}}, "y": {"datum": 28.5, "type": "quantitative", "scale": {"domain": [0, 36], "range": [564, 600], "nice": false, "zero": false}}}},
    {"mark": {"type": "text", "text": "IL1B", "align": "left", "baseline": "alphabetic", "fontSize": 10},
     "encoding": {"x": {"datum": 198, "type": "quantitative", "scale": {"domain": [0, 300], "range": [0, 300], "nice": false, "zero": false}}, "y": {"datum": 28.5, "type": "quantitative", "scale": {"domain": [0, 36], "range": [564, 600], "nice": false, "zero": false}}}},
    {"mark": {"type": "rule", "color": "#888", "strokeWidth": 1},
     "encoding": {"x": {"datum": 0, "type": "quantitative", "scale": {"domain": [0, 300], "range": [0, 300], "nice": false, "zero": false}}, "x2": {"datum": 288}, "y": {"datum": 33, "type": "quantitative", "scale": {"domain": [0, 36], "range": [564, 600], "nice": false, "zero": false}}}}
  ]
},
{
  "data": {"name": "rec"},
  "resolve": {"scale": {"y": "independent"}},
  "layer": [
    {"transform": [{"filter": "datum.cond === 'oxPAPC'"}],
     "encoding": {"y": {"field": "rank", "type": "ordinal", "scale": {"type": "band", "range": [600.5, 611.5], "paddingInner": 0, "paddingOuter": 0}}},
     "layer": [
       {"mark": {"type": "rect", "stroke": "#808080", "strokeWidth": 0.6},
        "encoding": {"x": {"datum": 2, "type": "quantitative", "scale": {"domain": [0, 300], "range": [0, 300], "nice": false, "zero": false}}, "x2": {"datum": 12.5},
          "color": {"field": "fc", "type": "quantitative", "scale": {"type": "linear", "domain": [-3, 0, 9], "range": ["#5e93d8", "#ffffff", "#e8473d"]}, "legend": null}}},
       {"mark": {"type": "text", "align": "left", "baseline": "middle", "fontSize": 8.7},
        "encoding": {"x": {"datum": 17, "type": "quantitative", "scale": {"domain": [0, 300], "range": [0, 300], "nice": false, "zero": false}}, "text": {"field": "gene"}}},
       {"mark": {"type": "text", "align": "left", "baseline": "top", "dy": -5, "lineBreak": "\n", "lineHeight": 12, "fontSize": 8.7},
        "encoding": {"x": {"datum": 50, "type": "quantitative", "scale": {"domain": [0, 300], "range": [0, 300], "nice": false, "zero": false}}, "text": {"field": "abbr"}}}
     ]},
    {"transform": [{"filter": "datum.cond === 'TNFα'"}],
     "encoding": {"y": {"field": "rank", "type": "ordinal", "scale": {"type": "band", "range": [600.5, 671.5], "paddingInner": 0, "paddingOuter": 0}}},
     "layer": [
       {"mark": {"type": "rect", "stroke": "#808080", "strokeWidth": 0.6},
        "encoding": {"x": {"datum": 87, "type": "quantitative", "scale": {"domain": [0, 300], "range": [0, 300], "nice": false, "zero": false}}, "x2": {"datum": 97.5},
          "color": {"field": "fc", "type": "quantitative", "scale": {"type": "linear", "domain": [-3, 0, 9], "range": ["#5e93d8", "#ffffff", "#e8473d"]}, "legend": null}}},
       {"mark": {"type": "text", "align": "left", "baseline": "middle", "fontSize": 8.7},
        "encoding": {"x": {"datum": 102, "type": "quantitative", "scale": {"domain": [0, 300], "range": [0, 300], "nice": false, "zero": false}}, "text": {"field": "gene"}}},
       {"mark": {"type": "text", "align": "left", "baseline": "middle", "fontSize": 8.7},
        "encoding": {"x": {"datum": 154, "type": "quantitative", "scale": {"domain": [0, 300], "range": [0, 300], "nice": false, "zero": false}}, "text": {"field": "abbr"}}}
     ]},
    {"transform": [{"filter": "datum.cond === 'IL1B'"}],
     "encoding": {"y": {"field": "rank", "type": "ordinal", "scale": {"type": "band", "range": [600.5, 697.7], "paddingInner": 0, "paddingOuter": 0}}},
     "layer": [
       {"mark": {"type": "rect", "stroke": "#808080", "strokeWidth": 0.6},
        "encoding": {"x": {"datum": 199, "type": "quantitative", "scale": {"domain": [0, 300], "range": [0, 300], "nice": false, "zero": false}}, "x2": {"datum": 210},
          "color": {"field": "fc", "type": "quantitative", "scale": {"type": "linear", "domain": [-3, 0, 9], "range": ["#5e93d8", "#ffffff", "#e8473d"]}, "legend": null}}},
       {"mark": {"type": "text", "align": "left", "baseline": "middle", "fontSize": 8.7},
        "encoding": {"x": {"datum": 213.5, "type": "quantitative", "scale": {"domain": [0, 300], "range": [0, 300], "nice": false, "zero": false}}, "text": {"field": "gene"}}},
       {"mark": {"type": "text", "align": "left", "baseline": "middle", "fontSize": 8.7},
        "encoding": {"x": {"datum": 265, "type": "quantitative", "scale": {"domain": [0, 300], "range": [0, 300], "nice": false, "zero": false}}, "text": {"field": "abbr"}}}
     ]}
  ]
},
{
  "data": {"values": [{}]},
  "layer": [
    {"mark": {"type": "text", "text": "e.", "align": "left", "baseline": "alphabetic", "fontSize": 19, "fontWeight": "bold"},
     "encoding": {"x": {"datum": 18, "type": "quantitative", "scale": {"domain": [0, 317], "range": [300, 617], "nice": false, "zero": false}}, "y": {"datum": 16.3, "type": "quantitative", "scale": {"domain": [0, 34], "range": [0, 34], "nice": false, "zero": false}}}},
    {"mark": {"type": "text", "text": "Enzyme", "align": "left", "baseline": "alphabetic", "fontSize": 12, "fontWeight": "bold"},
     "encoding": {"x": {"datum": 37, "type": "quantitative", "scale": {"domain": [0, 317], "range": [300, 617], "nice": false, "zero": false}}, "y": {"datum": 14.5, "type": "quantitative", "scale": {"domain": [0, 34], "range": [0, 34], "nice": false, "zero": false}}}},
    {"mark": {"type": "square", "size": 72, "filled": true, "fill": "#c21a30", "stroke": "#666", "strokeWidth": 0.6, "opacity": 1},
     "encoding": {"x": {"datum": 95, "type": "quantitative", "scale": {"domain": [0, 317], "range": [300, 617], "nice": false, "zero": false}}, "y": {"datum": 9.5, "type": "quantitative", "scale": {"domain": [0, 34], "range": [0, 34], "nice": false, "zero": false}}}},
    {"mark": {"type": "rule", "color": "#444", "strokeWidth": 1.2},
     "encoding": {"x": {"datum": 20, "type": "quantitative", "scale": {"domain": [0, 317], "range": [300, 617], "nice": false, "zero": false}}, "x2": {"datum": 317}, "y": {"datum": 17, "type": "quantitative", "scale": {"domain": [0, 34], "range": [0, 34], "nice": false, "zero": false}}}},
    {"mark": {"type": "text", "text": "oxPAPC", "align": "left", "baseline": "alphabetic", "fontSize": 10},
     "encoding": {"x": {"datum": 21, "type": "quantitative", "scale": {"domain": [0, 317], "range": [300, 617], "nice": false, "zero": false}}, "y": {"datum": 28.8, "type": "quantitative", "scale": {"domain": [0, 34], "range": [0, 34], "nice": false, "zero": false}}}},
    {"mark": {"type": "text", "text": "TNFα", "align": "left", "baseline": "alphabetic", "fontSize": 10},
     "encoding": {"x": {"datum": 120, "type": "quantitative", "scale": {"domain": [0, 317], "range": [300, 617], "nice": false, "zero": false}}, "y": {"datum": 28.8, "type": "quantitative", "scale": {"domain": [0, 34], "range": [0, 34], "nice": false, "zero": false}}}},
    {"mark": {"type": "text", "text": "IL1B", "align": "left", "baseline": "alphabetic", "fontSize": 10},
     "encoding": {"x": {"datum": 205, "type": "quantitative", "scale": {"domain": [0, 317], "range": [300, 617], "nice": false, "zero": false}}, "y": {"datum": 28.8, "type": "quantitative", "scale": {"domain": [0, 34], "range": [0, 34], "nice": false, "zero": false}}}},
    {"mark": {"type": "rule", "color": "#888", "strokeWidth": 1},
     "encoding": {"x": {"datum": 20, "type": "quantitative", "scale": {"domain": [0, 317], "range": [300, 617], "nice": false, "zero": false}}, "x2": {"datum": 317}, "y": {"datum": 31, "type": "quantitative", "scale": {"domain": [0, 34], "range": [0, 34], "nice": false, "zero": false}}}}
  ]
},
{
  "data": {"name": "enz"},
  "resolve": {"scale": {"y": "independent"}},
  "layer": [
    {"transform": [{"filter": "datum.cond === 'oxPAPC'"}],
     "encoding": {"y": {"field": "rank", "type": "ordinal", "scale": {"type": "band", "range": [34, 161.4], "paddingInner": 0, "paddingOuter": 0}}},
     "layer": [
       {"mark": {"type": "rect", "stroke": "#808080", "strokeWidth": 0.6},
        "encoding": {"x": {"datum": 21, "type": "quantitative", "scale": {"domain": [0, 317], "range": [300, 617], "nice": false, "zero": false}}, "x2": {"datum": 31.5},
          "color": {"field": "fc", "type": "quantitative", "scale": {"type": "linear", "domain": [-3, 0, 9], "range": ["#5e93d8", "#ffffff", "#e8473d"]}, "legend": null}}},
       {"mark": {"type": "text", "align": "left", "baseline": "middle", "fontSize": 8.7},
        "encoding": {"x": {"datum": 35, "type": "quantitative", "scale": {"domain": [0, 317], "range": [300, 617], "nice": false, "zero": false}}, "text": {"field": "gene"}}},
       {"mark": {"type": "text", "align": "left", "baseline": "middle", "fontSize": 8.7},
        "encoding": {"x": {"datum": 80.5, "type": "quantitative", "scale": {"domain": [0, 317], "range": [300, 617], "nice": false, "zero": false}}, "text": {"field": "abbr"}}}
     ]},
    {"transform": [{"filter": "datum.cond === 'TNFα'"}],
     "encoding": {"y": {"field": "rank", "type": "ordinal", "scale": {"type": "band", "range": [34, 91.6], "paddingInner": 0, "paddingOuter": 0}}},
     "layer": [
       {"mark": {"type": "rect", "stroke": "#808080", "strokeWidth": 0.6},
        "encoding": {"x": {"datum": 120, "type": "quantitative", "scale": {"domain": [0, 317], "range": [300, 617], "nice": false, "zero": false}}, "x2": {"datum": 130.5},
          "color": {"field": "fc", "type": "quantitative", "scale": {"type": "linear", "domain": [-3, 0, 9], "range": ["#5e93d8", "#ffffff", "#e8473d"]}, "legend": null}}},
       {"mark": {"type": "text", "align": "left", "baseline": "middle", "fontSize": 8.7},
        "encoding": {"x": {"datum": 134.5, "type": "quantitative", "scale": {"domain": [0, 317], "range": [300, 617], "nice": false, "zero": false}}, "text": {"field": "gene"}}},
       {"mark": {"type": "text", "align": "left", "baseline": "middle", "fontSize": 8.7},
        "encoding": {"x": {"datum": 171.5, "type": "quantitative", "scale": {"domain": [0, 317], "range": [300, 617], "nice": false, "zero": false}}, "text": {"field": "abbr"}}}
     ]},
    {"transform": [{"filter": "datum.cond === 'IL1B'"}],
     "encoding": {"y": {"field": "rank", "type": "ordinal", "scale": {"type": "band", "range": [34, 96.4], "paddingInner": 0, "paddingOuter": 0}}},
     "layer": [
       {"mark": {"type": "rect", "stroke": "#808080", "strokeWidth": 0.6},
        "encoding": {"x": {"datum": 209, "type": "quantitative", "scale": {"domain": [0, 317], "range": [300, 617], "nice": false, "zero": false}}, "x2": {"datum": 220},
          "color": {"field": "fc", "type": "quantitative", "scale": {"type": "linear", "domain": [-3, 0, 9], "range": ["#5e93d8", "#ffffff", "#e8473d"]}, "legend": null}}},
       {"mark": {"type": "text", "align": "left", "baseline": "middle", "fontSize": 8.7},
        "encoding": {"x": {"datum": 225, "type": "quantitative", "scale": {"domain": [0, 317], "range": [300, 617], "nice": false, "zero": false}}, "text": {"field": "gene"}}},
       {"mark": {"type": "text", "align": "left", "baseline": "middle", "fontSize": 8.7},
        "encoding": {"x": {"datum": 263, "type": "quantitative", "scale": {"domain": [0, 317], "range": [300, 617], "nice": false, "zero": false}}, "text": {"field": "abbr"}}}
     ]}
  ]
},
{
  "data": {"values": [{}]},
  "layer": [
    {"mark": {"type": "text", "text": "f.", "align": "left", "baseline": "alphabetic", "fontSize": 20, "fontWeight": "bold"},
     "encoding": {"x": {"datum": 19, "type": "quantitative", "scale": {"domain": [0, 317], "range": [300, 617], "nice": false, "zero": false}}, "y": {"datum": 15.5, "type": "quantitative", "scale": {"domain": [0, 38], "range": [170, 208], "nice": false, "zero": false}}}},
    {"mark": {"type": "text", "text": "Transcription Factor", "align": "left", "baseline": "alphabetic", "fontSize": 11.5, "fontWeight": "bold"},
     "encoding": {"x": {"datum": 43, "type": "quantitative", "scale": {"domain": [0, 317], "range": [300, 617], "nice": false, "zero": false}}, "y": {"datum": 15, "type": "quantitative", "scale": {"domain": [0, 38], "range": [170, 208], "nice": false, "zero": false}}}},
    {"mark": {"type": "square", "size": 72, "filled": true, "fill": "#21309a", "stroke": "#666", "strokeWidth": 0.6, "opacity": 1},
     "encoding": {"x": {"datum": 164, "type": "quantitative", "scale": {"domain": [0, 317], "range": [300, 617], "nice": false, "zero": false}}, "y": {"datum": 11, "type": "quantitative", "scale": {"domain": [0, 38], "range": [170, 208], "nice": false, "zero": false}}}},
    {"mark": {"type": "rule", "color": "#444", "strokeWidth": 1.2},
     "encoding": {"x": {"datum": 20, "type": "quantitative", "scale": {"domain": [0, 317], "range": [300, 617], "nice": false, "zero": false}}, "x2": {"datum": 317}, "y": {"datum": 22.3, "type": "quantitative", "scale": {"domain": [0, 38], "range": [170, 208], "nice": false, "zero": false}}}},
    {"mark": {"type": "text", "text": "oxPAPC", "align": "left", "baseline": "alphabetic", "fontSize": 10},
     "encoding": {"x": {"datum": 21, "type": "quantitative", "scale": {"domain": [0, 317], "range": [300, 617], "nice": false, "zero": false}}, "y": {"datum": 31.5, "type": "quantitative", "scale": {"domain": [0, 38], "range": [170, 208], "nice": false, "zero": false}}}},
    {"mark": {"type": "text", "text": "TNFα", "align": "left", "baseline": "alphabetic", "fontSize": 10},
     "encoding": {"x": {"datum": 120, "type": "quantitative", "scale": {"domain": [0, 317], "range": [300, 617], "nice": false, "zero": false}}, "y": {"datum": 31.5, "type": "quantitative", "scale": {"domain": [0, 38], "range": [170, 208], "nice": false, "zero": false}}}},
    {"mark": {"type": "text", "text": "IL1B", "align": "left", "baseline": "alphabetic", "fontSize": 10},
     "encoding": {"x": {"datum": 205, "type": "quantitative", "scale": {"domain": [0, 317], "range": [300, 617], "nice": false, "zero": false}}, "y": {"datum": 31.5, "type": "quantitative", "scale": {"domain": [0, 38], "range": [170, 208], "nice": false, "zero": false}}}},
    {"mark": {"type": "rule", "color": "#888", "strokeWidth": 1},
     "encoding": {"x": {"datum": 20, "type": "quantitative", "scale": {"domain": [0, 317], "range": [300, 617], "nice": false, "zero": false}}, "x2": {"datum": 317}, "y": {"datum": 35, "type": "quantitative", "scale": {"domain": [0, 38], "range": [170, 208], "nice": false, "zero": false}}}}
  ]
},
{
  "data": {"name": "tf"},
  "resolve": {"scale": {"y": "independent"}},
  "layer": [
    {"transform": [{"filter": "datum.cond === 'oxPAPC'"}],
     "encoding": {"y": {"field": "rank", "type": "ordinal", "scale": {"type": "band", "range": [208.3, 363.3], "paddingInner": 0, "paddingOuter": 0}}},
     "layer": [
       {"mark": {"type": "rect", "stroke": "#808080", "strokeWidth": 0.6},
        "encoding": {"x": {"datum": 21, "type": "quantitative", "scale": {"domain": [0, 317], "range": [300, 617], "nice": false, "zero": false}}, "x2": {"datum": 31.5},
          "color": {"field": "fc", "type": "quantitative", "scale": {"type": "linear", "domain": [-3, 0, 9], "range": ["#5e93d8", "#ffffff", "#e8473d"]}, "legend": null}}},
       {"mark": {"type": "text", "align": "left", "baseline": "middle", "fontSize": 8.7},
        "encoding": {"x": {"datum": 35, "type": "quantitative", "scale": {"domain": [0, 317], "range": [300, 617], "nice": false, "zero": false}}, "text": {"field": "gene"}}},
       {"mark": {"type": "text", "align": "left", "baseline": "middle", "fontSize": 8.7},
        "encoding": {"x": {"datum": 78, "type": "quantitative", "scale": {"domain": [0, 317], "range": [300, 617], "nice": false, "zero": false}}, "text": {"field": "abbr"}}}
     ]},
    {"transform": [{"filter": "datum.cond === 'TNFα'"}],
     "encoding": {"y": {"field": "rank", "type": "ordinal", "scale": {"type": "band", "range": [208.3, 312.3], "paddingInner": 0, "paddingOuter": 0}}},
     "layer": [
       {"mark": {"type": "rect", "stroke": "#808080", "strokeWidth": 0.6},
        "encoding": {"x": {"datum": 119.5, "type": "quantitative", "scale": {"domain": [0, 317], "range": [300, 617], "nice": false, "zero": false}}, "x2": {"datum": 130},
          "color": {"field": "fc", "type": "quantitative", "scale": {"type": "linear", "domain": [-3, 0, 9], "range": ["#5e93d8", "#ffffff", "#e8473d"]}, "legend": null}}},
       {"mark": {"type": "text", "align": "left", "baseline": "middle", "fontSize": 8.7},
        "encoding": {"x": {"datum": 135, "type": "quantitative", "scale": {"domain": [0, 317], "range": [300, 617], "nice": false, "zero": false}}, "text": {"field": "gene"}}},
       {"mark": {"type": "text", "align": "left", "baseline": "middle", "fontSize": 8.7},
        "encoding": {"x": {"datum": 172, "type": "quantitative", "scale": {"domain": [0, 317], "range": [300, 617], "nice": false, "zero": false}}, "text": {"field": "abbr"}}}
     ]},
    {"transform": [{"filter": "datum.cond === 'IL1B'"}],
     "encoding": {"y": {"field": "rank", "type": "ordinal", "scale": {"type": "band", "range": [208.3, 456.3], "paddingInner": 0, "paddingOuter": 0}}},
     "layer": [
       {"mark": {"type": "rect", "stroke": "#808080", "strokeWidth": 0.6},
        "encoding": {"x": {"datum": 209, "type": "quantitative", "scale": {"domain": [0, 317], "range": [300, 617], "nice": false, "zero": false}}, "x2": {"datum": 220},
          "color": {"field": "fc", "type": "quantitative", "scale": {"type": "linear", "domain": [-3, 0, 9], "range": ["#5e93d8", "#ffffff", "#e8473d"]}, "legend": null}}},
       {"mark": {"type": "text", "align": "left", "baseline": "middle", "fontSize": 8.7},
        "encoding": {"x": {"datum": 224.5, "type": "quantitative", "scale": {"domain": [0, 317], "range": [300, 617], "nice": false, "zero": false}}, "text": {"field": "gene"}}},
       {"mark": {"type": "text", "align": "left", "baseline": "middle", "fontSize": 8.7},
        "encoding": {"x": {"datum": 264, "type": "quantitative", "scale": {"domain": [0, 317], "range": [300, 617], "nice": false, "zero": false}}, "text": {"field": "abbr"}}}
     ]}
  ]
},
{
  "data": {"values": [{}]},
  "layer": [
    {"mark": {"type": "text", "text": "g.", "align": "left", "baseline": "alphabetic", "fontSize": 20, "fontWeight": "bold"},
     "encoding": {"x": {"datum": 18, "type": "quantitative", "scale": {"domain": [0, 317], "range": [300, 617], "nice": false, "zero": false}}, "y": {"datum": 3, "type": "quantitative", "scale": {"domain": [0, 29], "range": [455, 484], "nice": false, "zero": false}}}},
    {"mark": {"type": "text", "text": "Cytokine", "align": "left", "baseline": "alphabetic", "fontSize": 12, "fontWeight": "bold"},
     "encoding": {"x": {"datum": 43, "type": "quantitative", "scale": {"domain": [0, 317], "range": [300, 617], "nice": false, "zero": false}}, "y": {"datum": 5, "type": "quantitative", "scale": {"domain": [0, 29], "range": [455, 484], "nice": false, "zero": false}}}},
    {"mark": {"type": "square", "size": 72, "filled": true, "fill": "#b364b3", "stroke": "#666", "strokeWidth": 0.6, "opacity": 1},
     "encoding": {"x": {"datum": 99, "type": "quantitative", "scale": {"domain": [0, 317], "range": [300, 617], "nice": false, "zero": false}}, "y": {"datum": 1, "type": "quantitative", "scale": {"domain": [0, 29], "range": [455, 484], "nice": false, "zero": false}}}},
    {"mark": {"type": "rule", "color": "#444", "strokeWidth": 1.2},
     "encoding": {"x": {"datum": 20, "type": "quantitative", "scale": {"domain": [0, 317], "range": [300, 617], "nice": false, "zero": false}}, "x2": {"datum": 317}, "y": {"datum": 9.3, "type": "quantitative", "scale": {"domain": [0, 29], "range": [455, 484], "nice": false, "zero": false}}}},
    {"mark": {"type": "text", "text": "oxPAPC", "align": "left", "baseline": "alphabetic", "fontSize": 10},
     "encoding": {"x": {"datum": 21, "type": "quantitative", "scale": {"domain": [0, 317], "range": [300, 617], "nice": false, "zero": false}}, "y": {"datum": 21.7, "type": "quantitative", "scale": {"domain": [0, 29], "range": [455, 484], "nice": false, "zero": false}}}},
    {"mark": {"type": "text", "text": "TNFα", "align": "left", "baseline": "alphabetic", "fontSize": 10},
     "encoding": {"x": {"datum": 120, "type": "quantitative", "scale": {"domain": [0, 317], "range": [300, 617], "nice": false, "zero": false}}, "y": {"datum": 21.7, "type": "quantitative", "scale": {"domain": [0, 29], "range": [455, 484], "nice": false, "zero": false}}}},
    {"mark": {"type": "text", "text": "IL1B", "align": "left", "baseline": "alphabetic", "fontSize": 10},
     "encoding": {"x": {"datum": 209, "type": "quantitative", "scale": {"domain": [0, 317], "range": [300, 617], "nice": false, "zero": false}}, "y": {"datum": 21.7, "type": "quantitative", "scale": {"domain": [0, 29], "range": [455, 484], "nice": false, "zero": false}}}},
    {"mark": {"type": "rule", "color": "#888", "strokeWidth": 1},
     "encoding": {"x": {"datum": 20, "type": "quantitative", "scale": {"domain": [0, 317], "range": [300, 617], "nice": false, "zero": false}}, "x2": {"datum": 317}, "y": {"datum": 24.7, "type": "quantitative", "scale": {"domain": [0, 29], "range": [455, 484], "nice": false, "zero": false}}}}
  ]
},
{
  "data": {"name": "cyt"},
  "resolve": {"scale": {"y": "independent"}},
  "layer": [
    {"transform": [{"filter": "datum.cond === 'oxPAPC'"}],
     "encoding": {"y": {"field": "rank", "type": "ordinal", "scale": {"type": "band", "range": [484, 495], "paddingInner": 0, "paddingOuter": 0}}},
     "layer": [
       {"mark": {"type": "rect", "stroke": "#808080", "strokeWidth": 0.6},
        "encoding": {"x": {"datum": 21, "type": "quantitative", "scale": {"domain": [0, 317], "range": [300, 617], "nice": false, "zero": false}}, "x2": {"datum": 31.5},
          "color": {"field": "fc", "type": "quantitative", "scale": {"type": "linear", "domain": [-3, 0, 9], "range": ["#5e93d8", "#ffffff", "#e8473d"]}, "legend": null}}},
       {"mark": {"type": "text", "align": "left", "baseline": "middle", "fontSize": 8.7},
        "encoding": {"x": {"datum": 35, "type": "quantitative", "scale": {"domain": [0, 317], "range": [300, 617], "nice": false, "zero": false}}, "text": {"field": "gene"}}},
       {"mark": {"type": "text", "align": "left", "baseline": "middle", "fontSize": 8.7},
        "encoding": {"x": {"datum": 80, "type": "quantitative", "scale": {"domain": [0, 317], "range": [300, 617], "nice": false, "zero": false}}, "text": {"field": "abbr"}}}
     ]},
    {"transform": [{"filter": "datum.cond === 'TNFα'"}],
     "encoding": {"y": {"field": "rank", "type": "ordinal", "scale": {"type": "band", "range": [484, 740.2], "paddingInner": 0, "paddingOuter": 0}}},
     "layer": [
       {"mark": {"type": "rect", "stroke": "#808080", "strokeWidth": 0.6},
        "encoding": {"x": {"datum": 120, "type": "quantitative", "scale": {"domain": [0, 317], "range": [300, 617], "nice": false, "zero": false}}, "x2": {"datum": 130.5},
          "color": {"field": "fc", "type": "quantitative", "scale": {"type": "linear", "domain": [-3, 0, 9], "range": ["#5e93d8", "#ffffff", "#e8473d"]}, "legend": null}}},
       {"mark": {"type": "text", "align": "left", "baseline": "middle", "fontSize": 8.7},
        "encoding": {"x": {"datum": 135, "type": "quantitative", "scale": {"domain": [0, 317], "range": [300, 617], "nice": false, "zero": false}}, "text": {"field": "gene"}}},
       {"mark": {"type": "text", "align": "left", "baseline": "middle", "fontSize": 8.7},
        "encoding": {"x": {"datum": 171, "type": "quantitative", "scale": {"domain": [0, 317], "range": [300, 617], "nice": false, "zero": false}}, "text": {"field": "abbr"}}}
     ]},
    {"transform": [{"filter": "datum.cond === 'IL1B'"}],
     "encoding": {"y": {"field": "rank", "type": "ordinal", "scale": {"type": "band", "range": [484, 638.2], "paddingInner": 0, "paddingOuter": 0}}},
     "layer": [
       {"mark": {"type": "rect", "stroke": "#808080", "strokeWidth": 0.6},
        "encoding": {"x": {"datum": 209.5, "type": "quantitative", "scale": {"domain": [0, 317], "range": [300, 617], "nice": false, "zero": false}}, "x2": {"datum": 220},
          "color": {"field": "fc", "type": "quantitative", "scale": {"type": "linear", "domain": [-3, 0, 9], "range": ["#5e93d8", "#ffffff", "#e8473d"]}, "legend": null}}},
       {"mark": {"type": "text", "align": "left", "baseline": "middle", "fontSize": 8.7},
        "encoding": {"x": {"datum": 224, "type": "quantitative", "scale": {"domain": [0, 317], "range": [300, 617], "nice": false, "zero": false}}, "text": {"field": "gene"}}},
       {"mark": {"type": "text", "align": "left", "baseline": "middle", "fontSize": 8.7},
        "encoding": {"x": {"datum": 262, "type": "quantitative", "scale": {"domain": [0, 317], "range": [300, 617], "nice": false, "zero": false}}, "text": {"field": "abbr"}}}
     ]},
    {"data": {"values": [{}]},
     "layer": [
       {"mark": {"type": "text", "text": "RNA fold change", "align": "center", "baseline": "middle", "fontSize": 10},
        "encoding": {"x": {"datum": 263, "type": "quantitative", "scale": {"domain": [0, 317], "range": [300, 617], "nice": false, "zero": false}}, "y": {"datum": 217.7, "type": "quantitative", "scale": {"domain": [0, 260], "range": [484, 744], "nice": false, "zero": false}}}},
       {"mark": {"type": "text", "text": "(log2(tmnt/control))", "align": "center", "baseline": "middle", "fontSize": 10},
        "encoding": {"x": {"datum": 263.5, "type": "quantitative", "scale": {"domain": [0, 317], "range": [300, 617], "nice": false, "zero": false}}, "y": {"datum": 228.7, "type": "quantitative", "scale": {"domain": [0, 260], "range": [484, 744], "nice": false, "zero": false}}}},
       {"mark": {"type": "rect", "stroke": "#555", "strokeWidth": 0.6, "fill": {"gradient": "linear", "x1": 0, "y1": 0, "x2": 1, "y2": 0, "stops": [{"offset": 0, "color": "#5e93d8"}, {"offset": 0.5, "color": "#ffffff"}, {"offset": 1, "color": "#e8473d"}]}},
        "encoding": {"x": {"datum": 223, "type": "quantitative", "scale": {"domain": [0, 317], "range": [300, 617], "nice": false, "zero": false}}, "x2": {"datum": 306}, "y": {"datum": 236, "type": "quantitative", "scale": {"domain": [0, 260], "range": [484, 744], "nice": false, "zero": false}}, "y2": {"datum": 244.3}}},
       {"mark": {"type": "text", "text": "-3", "align": "center", "baseline": "middle", "fontSize": 10},
        "encoding": {"x": {"datum": 224.5, "type": "quantitative", "scale": {"domain": [0, 317], "range": [300, 617], "nice": false, "zero": false}}, "y": {"datum": 251.5, "type": "quantitative", "scale": {"domain": [0, 260], "range": [484, 744], "nice": false, "zero": false}}}},
       {"mark": {"type": "text", "text": "0", "align": "center", "baseline": "middle", "fontSize": 10},
        "encoding": {"x": {"datum": 263.5, "type": "quantitative", "scale": {"domain": [0, 317], "range": [300, 617], "nice": false, "zero": false}}, "y": {"datum": 251.5, "type": "quantitative", "scale": {"domain": [0, 260], "range": [484, 744], "nice": false, "zero": false}}}},
       {"mark": {"type": "text", "text": "9", "align": "center", "baseline": "middle", "fontSize": 10},
        "encoding": {"x": {"datum": 305, "type": "quantitative", "scale": {"domain": [0, 317], "range": [300, 617], "nice": false, "zero": false}}, "y": {"datum": 251.5, "type": "quantitative", "scale": {"domain": [0, 260], "range": [484, 744], "nice": false, "zero": false}}}}
     ]}
  ]
}
]
}
